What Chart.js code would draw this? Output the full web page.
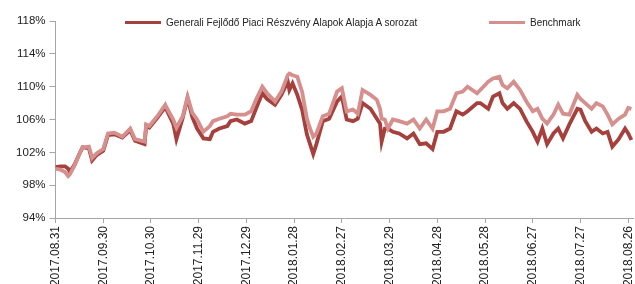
<!DOCTYPE html>
<html>
<head>
<meta charset="utf-8">
<script src="https://cdn.jsdelivr.net/npm/chart.js@4.4.0/dist/chart.umd.min.js"></script>
<style>
    html, body { margin: 0; padding: 0; background: #fff; overflow: hidden; }
    #wrap { position: relative; width: 635px; height: 284px; }
    .leg { position: absolute; top: 17px; font: 10px "Liberation Sans", Arial, sans-serif; color: #222; white-space: nowrap; }
    .leg i { display: inline-block; width: 36px; height: 3px; vertical-align: middle; margin-right: 5px; position: relative; top: -1px; }
</style>
</head>
<body>
<div id="wrap">
    <canvas id="chart" width="635" height="284"></canvas>
    <div class="leg" style="left:125px"><i style="background:#A5403D"></i>Generali Fejlődő Piaci Részvény Alapok Alapja A sorozat</div>
    <div class="leg" style="left:489px"><i style="background:#D58F8D"></i>Benchmark</div>
</div>
<script>
// day offsets from 2017.08.31 (%)
var days = [0, 3, 6, 8, 9, 12, 15, 17, 21, 23, 26, 30, 33, 37, 42, 47, 50, 56, 57, 59,
    64, 69, 70, 74, 76, 80, 83, 86, 89, 93, 97, 99, 103, 108, 110, 114, 119, 123, 126, 130,
    133, 138, 142, 146, 147, 149, 152, 155, 158, 160, 162, 164, 168, 172, 177, 180, 183, 187, 190, 193,
    198, 202, 204, 205, 207, 209, 212, 216, 221, 225, 229, 233, 237, 240, 244, 248, 252, 256, 259, 265,
    267, 272, 275, 279, 281, 284, 288, 292, 296, 300, 303, 306, 309, 313, 316, 319, 323, 328, 330, 333,
    337, 340, 344, 347, 350, 354, 358, 360, 362];

var fund = [100.2, 100.3, 100.3, 100.0, 99.6, 100.5, 101.8, 102.6, 102.5, 101.0, 101.7, 102.2, 104.1, 104.2, 103.8, 104.7, 103.4, 103.0, 105.2, 105.0,
    106.2, 107.5, 107.1, 105.5, 103.6, 106.2, 108.6, 106.3, 104.9, 103.7, 103.6, 104.5, 104.9, 105.2, 105.8, 106.0, 105.5, 105.8, 107.3, 109.2,
    108.5, 107.8, 109.0, 110.6, 109.6, 110.4, 109.0, 107.2, 104.2, 103.0, 101.8, 103.0, 105.8, 106.1, 108.2, 108.8, 106.0, 105.8, 106.1, 108.0,
    107.3, 106.1, 105.5, 103.3, 104.9, 104.9, 104.5, 104.3, 103.7, 104.3, 103.0, 103.1, 102.4, 104.5, 104.5, 104.9, 107.0, 106.6, 107.0, 108.0,
    108.0, 107.3, 108.8, 109.2, 108.0, 107.3, 108.0, 107.3, 105.8, 104.5, 103.3, 104.9, 103.0, 104.3, 104.9, 103.7, 105.4, 107.3, 107.2, 105.8,
    104.5, 104.9, 104.3, 104.5, 102.7, 103.6, 104.9, 104.3, 103.5];

var bench = [100.0, 99.9, 99.6, 99.1, 99.3, 100.4, 101.8, 102.6, 102.7, 101.3, 101.9, 102.4, 104.3, 104.4, 103.9, 104.9, 103.6, 103.3, 105.4, 105.2,
    106.4, 107.8, 107.4, 106.0, 105.0, 106.4, 108.8, 106.8, 106.0, 104.5, 105.2, 105.8, 106.1, 106.4, 106.7, 106.6, 106.6, 107.0, 108.4, 110.0,
    109.2, 108.2, 109.4, 111.4, 111.6, 111.4, 111.2, 109.4, 106.1, 104.9, 103.9, 104.3, 106.4, 106.7, 109.4, 109.8, 107.0, 107.2, 106.7, 109.6,
    109.0, 108.4, 107.3, 106.1, 106.0, 104.9, 106.0, 105.8, 105.5, 106.0, 104.9, 106.0, 104.9, 107.0, 107.0, 107.3, 109.2, 109.4, 110.0, 109.2,
    109.6, 110.6, 111.0, 111.2, 110.2, 109.8, 110.6, 109.6, 108.2, 107.0, 107.3, 106.1, 105.5, 106.6, 107.8, 106.7, 106.6, 109.0, 108.5, 108.0,
    107.3, 108.0, 107.6, 106.6, 105.4, 106.1, 106.6, 107.4, 107.3];

var tickLabels = ['2017.08.31', '2017.09.30', '2017.10.30', '2017.11.29', '2017.12.29', '2018.01.28',
    '2018.02.27', '2018.03.29', '2018.04.28', '2018.05.28', '2018.06.27', '2018.07.27', '2018.08.26'];

function pts(vals) {
    return vals.map(function (v, i) { return { x: days[i], y: v }; });
}

var axisColor = '#A6A6A6';
var font = { family: '"Liberation Sans", Arial, sans-serif' };

new Chart(document.getElementById('chart'), {
    type: 'line',
    data: {
        datasets: [{
            label: 'Generali Fejlődő Piaci Részvény Alapok Alapja A sorozat',
            data: pts(fund),
            borderColor: '#A5403D',
            borderWidth: 3.8,
            pointRadius: 0,
            order: 1
        }, {
            label: 'Benchmark',
            data: pts(bench),
            borderColor: '#D58F8D',
            borderWidth: 3.8,
            pointRadius: 0,
            order: 0
        }]
    },
    options: {
        responsive: false,
        animation: false,
        layout: { padding: { top: 21, right: 2, left: 0, bottom: 0 } },
        plugins: { legend: { display: false }, tooltip: { enabled: false } },
        scales: {
            x: {
                type: 'linear',
                min: 0,
                max: 363,
                afterBuildTicks: function (s) {
                    s.ticks = tickLabels.map(function (t, i) { return { value: i * 30 }; });
                },
                afterFit: function (s) {
                    s.height = 66;
                    s.paddingLeft = 0;
                    s.paddingRight = 0;
                },
                border: { color: axisColor, width: 1 },
                grid: { drawOnChartArea: false, color: axisColor, tickLength: 5 },
                ticks: {
                    autoSkip: false,
                    minRotation: 90,
                    maxRotation: 90,
                    padding: 3,
                    color: '#222',
                    font: Object.assign({ size: 12 }, font),
                    callback: function (v) { return tickLabels[Math.round(v / 30)]; }
                }
            },
            y: {
                min: 94,
                max: 118,
                afterFit: function (s) { s.width = 55.5; },
                border: { color: axisColor, width: 1 },
                grid: { drawOnChartArea: false, color: axisColor, tickLength: 6 },
                ticks: {
                    stepSize: 4,
                    padding: 4,
                    color: '#222',
                    font: Object.assign({ size: 11.5 }, font),
                    callback: function (v) { return v + '%'; }
                }
            }
        }
    }
});
</script>
</body>
</html>
